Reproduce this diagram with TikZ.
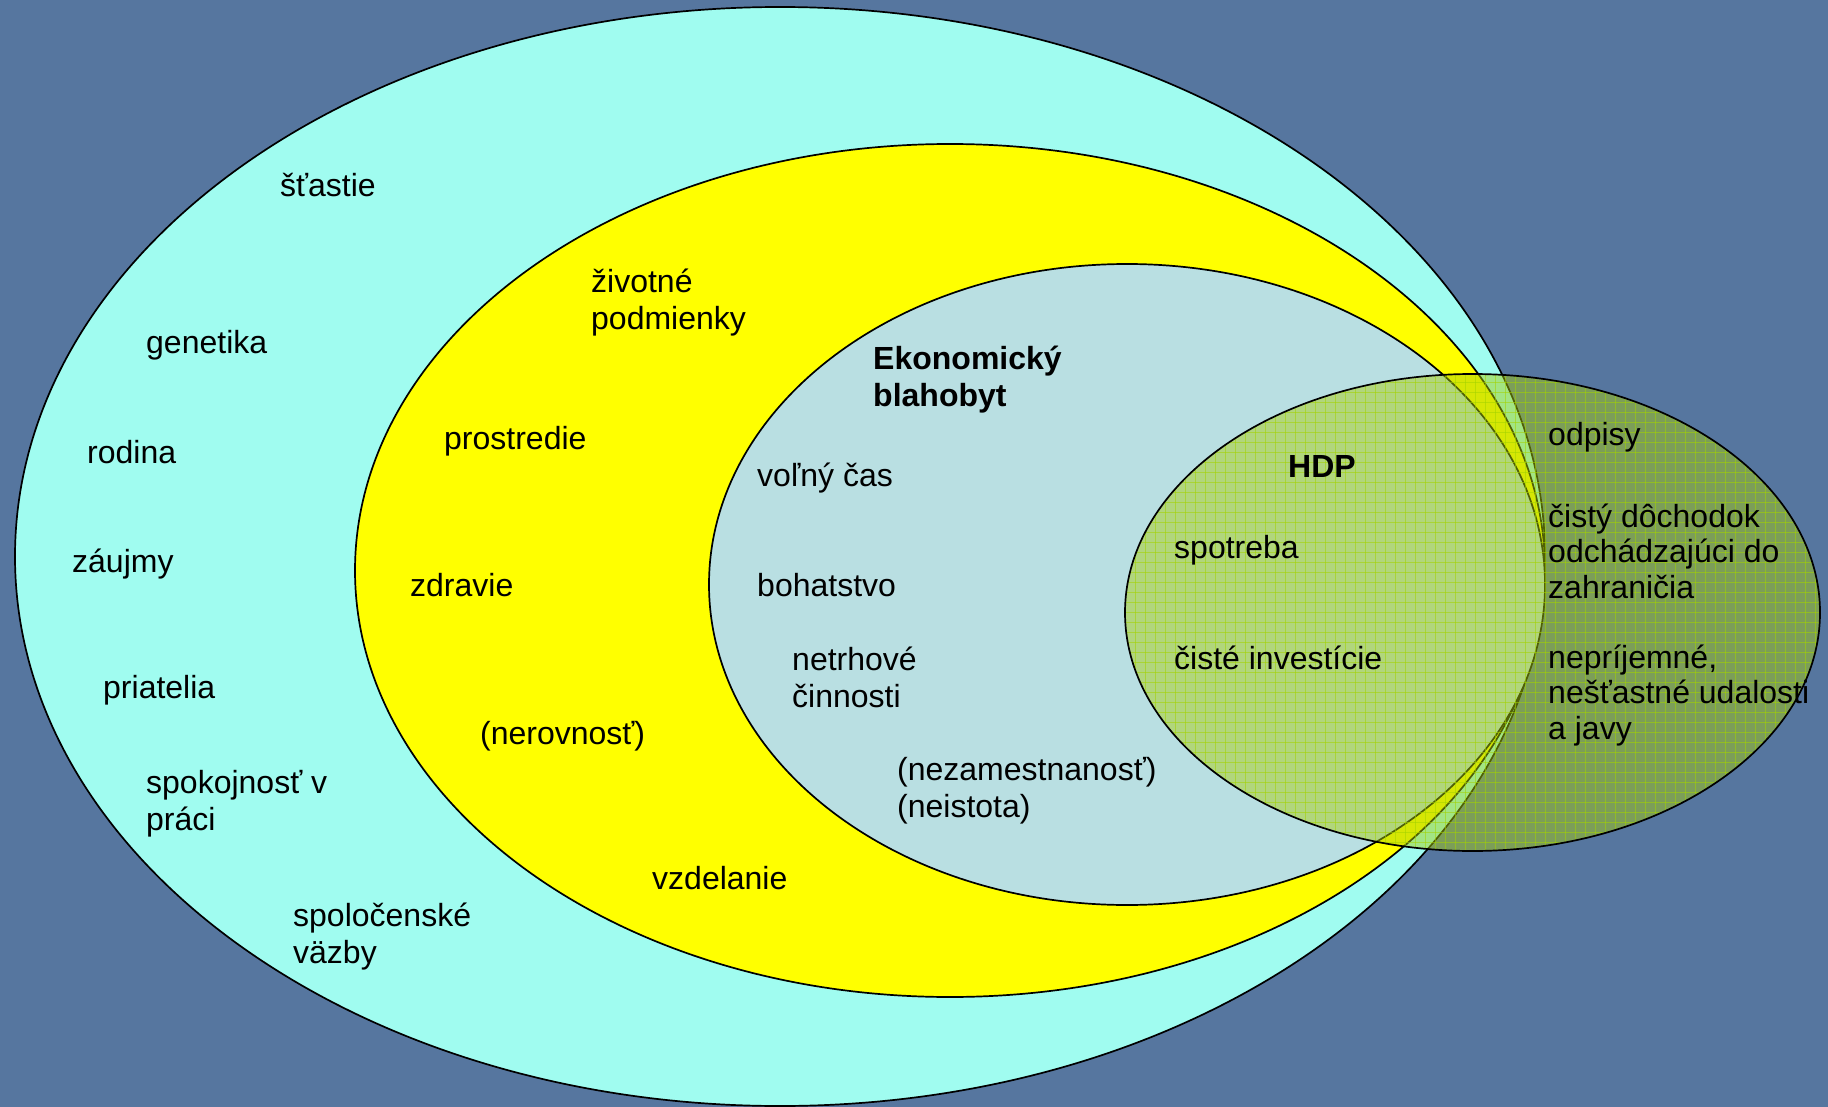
\documentclass[tikz,border=0pt]{standalone}
\usepackage{fontspec}
\setmainfont{Liberation Sans}
\definecolor{bgblue}{HTML}{56769F}
\definecolor{cyanfill}{HTML}{A0FCF0}
\definecolor{yelfill}{HTML}{FFFF00}
\definecolor{ekofill}{HTML}{B9DFE2}
\definecolor{hdpgreen}{HTML}{A8CC0A}
\definecolor{gridgreen}{HTML}{A4D400}
\tikzset{
  ring/.style={draw=black, line width=1.7pt},
  lbl/.style={anchor=base west, inner sep=0pt, align=left, font=\fontsize{32}{37}\selectfont},
  lblr/.style={anchor=base west, inner sep=0pt, align=left, font=\fontsize{32}{35.5}\selectfont},
  lblb/.style={lbl, font=\fontsize{32}{37}\selectfont\bfseries},
  gridln/.style={draw=gridgreen, line width=0.9pt, opacity=0.55},
}
\begin{document}
\begin{tikzpicture}[x=1pt, y=-1pt]
\useasboundingbox (0,0) rectangle (1828,1107);
\fill[bgblue] (0,0) rectangle (1828,1107);
% ellipses
\draw[ring, fill=cyanfill] (780,556.5) ellipse [x radius=765pt, y radius=549.5pt];
\draw[ring, fill=yelfill] (950,570.5) ellipse [x radius=595pt, y radius=426.5pt];
\draw[ring, fill=ekofill] (1127,584.5) ellipse [x radius=418pt, y radius=320.5pt];
% HDP
\fill[hdpgreen, fill opacity=0.47] (1472.5,612.5) ellipse [x radius=347.5pt, y radius=238.5pt];
\begin{scope}
  \clip (1472.5,612.5) ellipse [x radius=347.5pt, y radius=238.5pt];
  \foreach \gx in {1125,1135,...,1825} \draw[gridln] (\gx,370) -- (\gx,855);
  \foreach \gy in {372,382,...,852} \draw[gridln] (1120,\gy) -- (1825,\gy);
\end{scope}
\draw[ring] (1472.5,612.5) ellipse [x radius=347.5pt, y radius=238.5pt];
% outer ring labels (multi-line nodes are placed at their last baseline)
\node[lbl] (stastie) at (280,197) {šťastie};
\node[lbl] (genetika) at (146,353) {genetika};
\node[lbl] (rodina) at (87,463) {rodina};
\node[lbl] (zaujmy) at (72,572) {záujmy};
\node[lbl] (priatelia) at (103,698) {priatelia};
\node[lbl] (spokojnost) at (146,830) {spokojnosť v\\práci};
\node[lbl] (vazby) at (293,963) {spoločenské\\väzby};
% yellow ring labels
\node[lbl] (zivotne) at (591,329) {životné\\podmienky};
\node[lbl] (prostredie) at (444,449) {prostredie};
\node[lbl] (zdravie) at (410,596) {zdravie};
\node[lbl] (nerovnost) at (480,744) {(nerovnosť)};
\node[lbl] (vzdelanie) at (652,889) {vzdelanie};
% economic welfare labels
\node[lblb] (eko) at (873,406) {Ekonomický\\blahobyt};
\node[lbl] (volny) at (757,486) {voľný čas};
\node[lbl] (bohatstvo) at (757,596) {bohatstvo};
\node[lbl] (netrhove) at (792,707) {netrhové\\činnosti};
\node[lbl] (nezam) at (897,817) {(nezamestnanosť)\\(neistota)};
% HDP labels
\node[lblb] (hdp) at (1288,477) {HDP};
\node[lbl] (spotreba) at (1174,558) {spotreba};
\node[lbl] (investicie) at (1174,669) {čisté investície};
\node[lbl] (odpisy) at (1548,445) {odpisy};
\node[lblr] (dochodok) at (1548,598) {čistý dôchodok\\odchádzajúci do\\zahraničia};
\node[lblr] (udalosti) at (1548,739) {nepríjemné,\\nešťastné udalosti\\a javy};
\end{tikzpicture}
\end{document}
